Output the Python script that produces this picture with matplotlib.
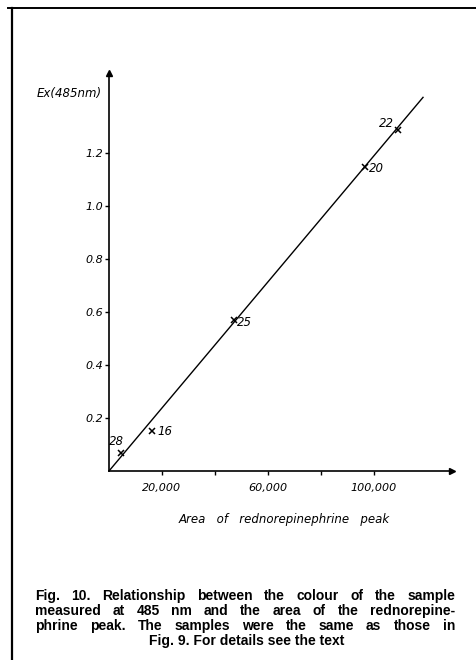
import matplotlib
matplotlib.use("Agg")
import matplotlib.pyplot as plt

# ---- data ----
sample_ids = ["28", "16", "25", "20", "22"]
area = [4500, 16200, 47200, 96600, 109000]
extinction = [0.068, 0.15, 0.57, 1.147, 1.287]
fit_x = [0, 118500]
fit_y = [0, 1.41]
xtick_vals = [20000, 40000, 60000, 80000, 100000]
xtick_labels = ["20,000", "", "60,000", "", "100,000"]
ytick_vals = [0.2, 0.4, 0.6, 0.8, 1.0, 1.2]
ytick_labels = ["0.2", "0.4", "0.6", "0.8", "1.0", "1.2"]
caption_lines = [
    "Fig. 10. Relationship between the colour of the sample",
    "measured at 485 nm and the area of the rednorepine-",
    "phrine peak. The samples were the same as those in",
    "Fig. 9. For details see the text",
]

W, H = 476, 660
fig = plt.figure(figsize=(W / 100, H / 100), dpi=100)
fig.patch.set_facecolor("white")

def fx(px):
    return px / W

def fy(py):
    return 1 - py / H

# border (left + top)
fig.add_artist(plt.Line2D([fx(12), fx(12)], [fy(8), fy(660)], color="black", lw=1.6))
fig.add_artist(plt.Line2D([fx(8), fx(476)], [fy(8), fy(8)], color="black", lw=1.4))

# axes: origin at (109, 471), top at 73, right at 452
x0p, y0p, x1p, y1p = 109, 471, 452, 73
ax = fig.add_axes([fx(x0p), fy(y0p), (x1p - x0p) / W, (y0p - y1p) / H])
ax.set_xlim(0, (x1p - x0p) / 53 * 20000)
ax.set_ylim(0, (y0p - y1p) / 265)
for s in ["top", "right"]:
    ax.spines[s].set_visible(False)
for s in ["left", "bottom"]:
    ax.spines[s].set_linewidth(1.2)
ax.patch.set_alpha(0)

# arrow heads
ax.plot([0], [1], marker="^", color="black", markersize=5, transform=ax.transAxes, clip_on=False)
ax.plot([1], [0], marker=">", color="black", markersize=5, transform=ax.transAxes, clip_on=False)

ax.set_xticks(xtick_vals)
ax.set_xticklabels(xtick_labels, fontstyle="italic", fontsize=8)
ax.set_yticks(ytick_vals)
ax.set_yticklabels(ytick_labels, fontstyle="italic", fontsize=8)
ax.tick_params(axis="x", direction="out", length=3, width=1, pad=6)
ax.tick_params(axis="y", direction="out", length=3, width=1, pad=1)

# fit line
ax.plot(fit_x, fit_y, color="black", lw=1.0, clip_on=False)
# points
ax.plot(area, extinction, linestyle="none", marker="x", color="black", markersize=4, mew=1.1)

offsets = {
    "28": ((-3, 8), "center", "center"),
    "16": ((4, 0), "left", "center"),
    "25": ((2, -2), "left", "center"),
    "20": ((3, -1), "left", "center"),
    "22": ((-3, 5), "right", "center"),
}
for sid, xv, yv in zip(sample_ids, area, extinction):
    (dx, dy), ha, va = offsets[sid]
    ax.annotate(sid, (xv, yv), xytext=(dx, dy), textcoords="offset points",
                ha=ha, va=va, fontsize=8.5, fontstyle="italic")

# axis labels
fig.text(fx(102), fy(93), "Ex(485nm)", ha="right", va="center", fontsize=8.5, fontstyle="italic")
fig.text(fx(284), fy(520), "Area   of   rednorepinephrine   peak", ha="center", va="center",
         fontsize=8.5, fontstyle="italic")

# caption with justification
renderer = fig.canvas.get_renderer()
cap_kw = dict(fontsize=10, fontweight="bold", family="Liberation Sans", va="center", ha="left")
cap_y = [596, 611, 626, 641]
left_px, right_px = 35, 455
for i, (line, ypx) in enumerate(zip(caption_lines, cap_y)):
    if i == len(caption_lines) - 1:
        fig.text(fx((left_px + right_px) / 2 + 2), fy(ypx), line, **dict(cap_kw, ha="center"))
        continue
    words = line.split()
    texts = [fig.text(0, fy(ypx), w, **cap_kw) for w in words]
    widths = [t.get_window_extent(renderer).width for t in texts]
    gap = (right_px - left_px - sum(widths)) / (len(words) - 1)
    x = left_px
    for t, w in zip(texts, widths):
        t.set_x(fx(x))
        x += w + gap

fig.savefig("out.png", dpi=100)
